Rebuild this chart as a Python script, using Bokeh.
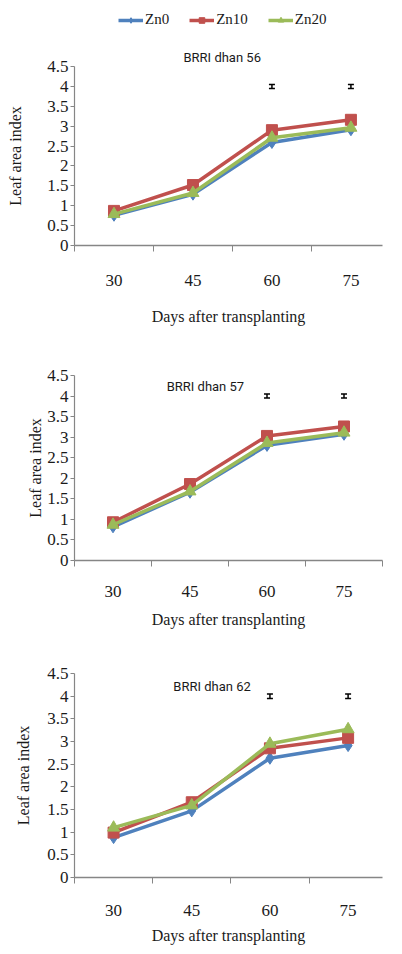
from bokeh.plotting import figure
from bokeh.models import (Range1d, FixedTicker, NumeralTickFormatter, Legend, LegendItem,
                          Label, Whisker, ColumnDataSource, TeeHead, Title)
from bokeh.layouts import column
from bokeh.embed import file_html
from bokeh.resources import INLINE

# ---------------- data ----------------
days = ["30", "45", "60", "75"]
series_names = ["Zn0", "Zn10", "Zn20"]

dhan56_zn0 = [0.76, 1.29, 2.59, 2.91]
dhan56_zn10 = [0.87, 1.52, 2.90, 3.16]
dhan56_zn20 = [0.79, 1.32, 2.71, 2.96]

dhan57_zn0 = [0.82, 1.66, 2.80, 3.07]
dhan57_zn10 = [0.93, 1.86, 3.03, 3.26]
dhan57_zn20 = [0.87, 1.68, 2.86, 3.11]

dhan62_zn0 = [0.88, 1.47, 2.63, 2.91]
dhan62_zn10 = [0.99, 1.66, 2.85, 3.08]
dhan62_zn20 = [1.10, 1.59, 2.95, 3.27]

err_days = ["60", "75"]
err_lower = [3.95, 3.95]
err_upper = [4.05, 4.05]

y_ticks = [0, 0.5, 1, 1.5, 2, 2.5, 3, 3.5, 4, 4.5]
titles = ["BRRI dhan 56", "BRRI dhan 57", "BRRI dhan 62"]

# ---------------- style ----------------
COLORS = ["#4F81BD", "#C0504D", "#9BBB59"]
MARKERS = ["diamond", "square", "triangle"]
MSIZES = [12, 11, 12]
SERIF = "Liberation Serif"
SANS = "Roboto"
AXIS_GRAY = "#868686"
TXT = "#1a1a1a"

xpos = {d: i + 0.5 for i, d in enumerate(days)}


def add_series(p, xs, data, visible=True):
    items = []
    for name, vals, c, m, s in zip(series_names, data, COLORS, MARKERS, MSIZES):
        ln = p.line(xs, vals, line_color=c, line_width=3.5, visible=visible)
        sc = p.scatter(xs, vals, marker=m, size=s, fill_color=c, line_color=c, visible=visible)
        items.append(LegendItem(label=name, renderers=[ln, sc]))
    return items


def make_fig(data, width, height, bl, br, bt, bb, xend,
             tick_standoff, xlab_standoff, ylab_standoff):
    p = figure(width=width, height=height, x_range=Range1d(0, xend), y_range=Range1d(0, 4.5),
               output_backend="svg", toolbar_location=None,
               min_border_left=bl, min_border_right=br, min_border_top=bt, min_border_bottom=bb)
    p.outline_line_color = None
    p.grid.visible = False

    # x axis
    xa = p.xaxis[0]
    xa.ticker = FixedTicker(ticks=[xpos[d] for d in days], minor_ticks=list(range(len(days) + 1)))
    xa.major_label_overrides = {xpos[d]: d for d in days}
    xa.major_tick_line_color = None
    xa.major_tick_out = 0
    xa.major_tick_in = 0
    xa.minor_tick_out = 6
    xa.minor_tick_in = 0
    xa.minor_tick_line_color = AXIS_GRAY
    xa.axis_line_color = AXIS_GRAY
    xa.axis_line_width = 1.5
    xa.major_label_standoff = tick_standoff
    xa.major_label_text_font = SERIF
    xa.major_label_text_font_size = "17px"
    xa.major_label_text_color = TXT
    xa.axis_label = "Days after transplanting"
    xa.axis_label_text_font = SERIF
    xa.axis_label_text_font_size = "16px"
    xa.axis_label_text_font_style = "normal"
    xa.axis_label_text_color = TXT
    xa.axis_label_standoff = xlab_standoff

    # y axis
    ya = p.yaxis[0]
    ya.ticker = FixedTicker(ticks=y_ticks, minor_ticks=[])
    ya.formatter = NumeralTickFormatter(format="0.[0]")
    ya.major_tick_out = 4
    ya.major_tick_in = 0
    ya.major_tick_line_color = AXIS_GRAY
    ya.axis_line_color = AXIS_GRAY
    ya.axis_line_width = 1.2
    ya.major_label_standoff = 2
    ya.major_label_text_font = SERIF
    ya.major_label_text_font_size = "17px"
    ya.major_label_text_color = TXT
    ya.axis_label = "Leaf area index"
    ya.axis_label_text_font = SERIF
    ya.axis_label_text_font_size = "16px"
    ya.axis_label_text_font_style = "normal"
    ya.axis_label_text_color = TXT
    ya.axis_label_standoff = ylab_standoff

    add_series(p, [xpos[d] for d in days], data)

    src = ColumnDataSource(dict(x=[xpos[d] for d in err_days], lo=err_lower, hi=err_upper))
    w = Whisker(base="x", lower="lo", upper="hi", source=src, dimension="height",
                line_color="black", line_width=1.5,
                upper_head=TeeHead(size=6, line_color="black", line_width=1.5),
                lower_head=TeeHead(size=6, line_color="black", line_width=1.5))
    p.add_layout(w)
    return p


def inner_title(p, text, x, y):
    p.add_layout(Label(x=x, y=y, text=text, text_font=SANS, text_font_size="13px",
                       text_align="center", text_baseline="middle", text_color=TXT))


# legend strip: hidden copies of the series, shown only through the legend
fl = figure(width=394, height=38, output_backend="svg", toolbar_location=None,
            x_axis_location=None, y_axis_location=None,
            min_border_left=0, min_border_right=0, min_border_top=0, min_border_bottom=0,
            x_range=Range1d(0, 1), y_range=Range1d(0, 1))
fl.grid.visible = False
fl.outline_line_color = None
legend_items = add_series(fl, [xpos[d] for d in days],
                          [dhan56_zn0, dhan56_zn10, dhan56_zn20], visible=False)
legend = Legend(items=legend_items, orientation="horizontal", location=(44, 10),
                padding=0, margin=0, spacing=20, glyph_width=25, glyph_height=14,
                label_standoff=2, label_text_font=SERIF, label_text_font_size="15px",
                label_text_color=TXT, border_line_color=None, background_fill_alpha=0,
                inactive_fill_alpha=0, click_policy="none")
fl.add_layout(legend, "center")

f1 = make_fig([dhan56_zn0, dhan56_zn10, dhan56_zn20],
              394, 308, 59, 0, 28, 101, 3.9, 23, 19, 20)
f2 = make_fig([dhan57_zn0, dhan57_zn10, dhan57_zn20],
              394, 294, 74, 12, 29, 80, 4.0, 19, 11, 0)
f3 = make_fig([dhan62_zn0, dhan62_zn10, dhan62_zn20],
              394, 306, 62, 0, 33, 68, 3.94, 21, 8, 12)

f1.add_layout(Title(text=titles[0], align="left", offset=109, standoff=3,
                    text_font=SANS, text_font_size="13px", text_font_style="normal",
                    text_color=TXT), "above")
inner_title(f2, titles[1], 1.70, 4.23)
inner_title(f3, titles[2], 1.76, 4.21)

layout = column(fl, f1, f2, f3, spacing=0)
open("out.html", "w").write(file_html(layout, INLINE))
